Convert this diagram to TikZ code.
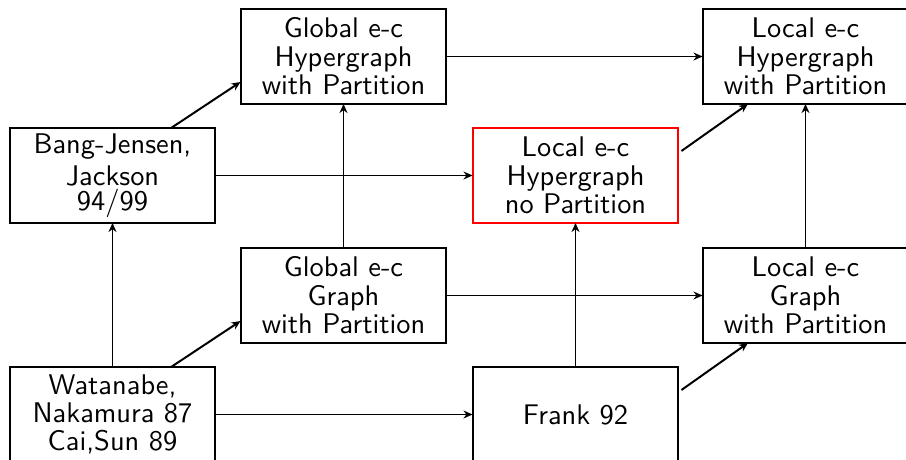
\documentclass[tikz,border=0pt]{standalone}
\usetikzlibrary{calc,arrows.meta}

\begin{document}
\begin{tikzpicture}[
  x=0.3521pt, y=-0.3521pt,
  line width=0.7pt,
  box/.style={draw, rectangle, minimum width=72.5pt, minimum height=33.4pt,
    inner sep=0pt, outer sep=0pt, align=center,
    font=\sffamily\fontsize{10pt}{10pt}\selectfont},
  hot/.style={box, draw=red},
  link/.style={-{Stealth[length=3.2pt,width=2.8pt]}}
]
\useasboundingbox (0,0) rectangle (906,460);

% boxes, laid out on a regular grid
\node[box] (gh) at (343.5,56.5)  {Global e-c\\Hypergraph\\with Partition};
\node[box] (lh) at (805.5,56.5)  {Local e-c\\Hypergraph\\with Partition};
\node[box] (bj) at (112.5,175.5) {Bang-Jensen,\\[1.3pt]Jackson\hspace*{3.5pt}\\[-1.2pt]94/99};
\node[hot] (nl) at (575.5,175.5) {Local e-c\\Hypergraph\\no Partition};
\node[box] (gg) at (343.5,295.5) {Global e-c\\Graph\\with Partition};
\node[box] (lg) at (805.5,295.5) {Local e-c\\Graph\\with Partition};
\node[box] (wn) at (112.5,414.5) {Watanabe,\\Nakamura 87\hspace*{3.5pt}\\Cai,Sun 89};
\node[box] (fr) at (575.5,414.5) {Frank 92};

% horizontal implications
\draw[link] (gh.east) -- (lh.west);
\draw[link] (bj.east) -- (nl.west);
\draw[link] (gg.east) -- (lg.west);
\draw[link] (wn.east) -- (fr.west);

% vertical implications
\draw[link] (wn.north) -- (bj.south);
\draw[link] (gg.north) -- (gh.south);
\draw[link] (fr.north) -- (nl.south);
\draw[link] (lg.north) -- (lh.south);

% diagonal implications
\draw[link] ($(bj.north)+(58.5,0)$) -- ($(gh.west)+(0,25.5)$);
\draw[link] ($(wn.north)+(58.5,0)$) -- ($(gg.west)+(0,25.5)$);
\draw[link] ($(nl.east)+(3,-24.5)$) -- ($(lh.south)+(-57.5,0)$);
\draw[link] ($(fr.east)+(3,-24.5)$) -- ($(lg.south)+(-57.5,0)$);
\end{tikzpicture}
\end{document}
